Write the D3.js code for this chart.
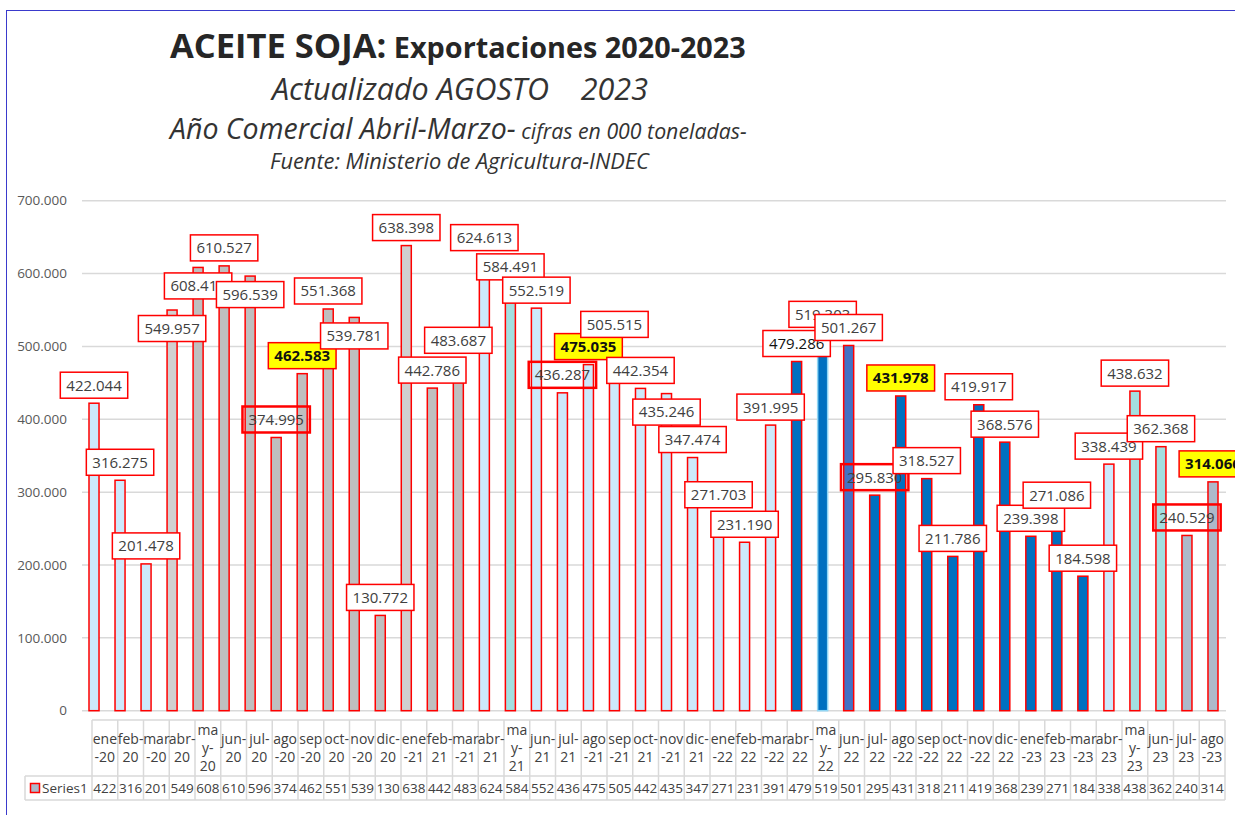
<!doctype html>
<html>
<head>
<meta charset="utf-8"/>
<script src="https://d3js.org/d3.v7.min.js"></script>
<style>
body{margin:0;background:#fff;}
text{font-family:"Open Sans",sans-serif;}
</style>
</head>
<body>
<script>
var width=1235, height=815;

// meses (ene-20 .. ago-23)
var months=["ene-20","feb-20","mar-20","abr-20","may-20","jun-20","jul-20","ago-20","sep-20","oct-20","nov-20","dic-20",
"ene-21","feb-21","mar-21","abr-21","may-21","jun-21","jul-21","ago-21","sep-21","oct-21","nov-21","dic-21",
"ene-22","feb-22","mar-22","abr-22","may-22","jun-22","jul-22","ago-22","sep-22","oct-22","nov-22","dic-22",
"ene-23","feb-23","mar-23","abr-23","may-23","jun-23","jul-23","ago-23"];

// as Excel wrapped them in the table header
var tickLabels=["ene\n-20","feb-\n20","mar\n-20","abr-\n20","ma\ny-\n20","jun-\n20","jul-\n20","ago\n-20","sep\n-20","oct-\n20","nov\n-20","dic-\n20",
"ene\n-21","feb-\n21","mar\n-21","abr-\n21","ma\ny-\n21","jun-\n21","jul-\n21","ago\n-21","sep\n-21","oct-\n21","nov\n-21","dic-\n21",
"ene\n-22","feb-\n22","mar\n-22","abr-\n22","ma\ny-\n22","jun-\n22","jul-\n22","ago\n-22","sep\n-22","oct-\n22","nov\n-22","dic-\n22",
"ene\n-23","feb-\n23","mar\n-23","abr-\n23","ma\ny-\n23","jun-\n23","jul-\n23","ago\n-23"];

// toneladas
var tons=[422044,316275,201478,549957,608413,610527,596539,374995,462583,551368,539781,130772,
638398,442786,483687,624613,584491,552519,436287,475035,505515,442354,435246,347474,
271703,231190,391995,479286,519303,501267,295830,431978,318527,211786,419917,368576,
239398,271086,184598,338439,438632,362368,240529,314066];

// colour group of each bar
var barGroup=["lb","lb","lb","gl","g","g","g","g","g","g","g","g",
"gl","g","g","lb","t","lb","lb","lb","lb","lb","lb","lb",
"lb","lb","lb","db","dbx","mb","db","db","db","db","db","db",
"db","db","db","lb","t","t","sb","sb"];

var yTicks=[0,100000,200000,300000,400000,500000,600000,700000];

var labelBelow=["abr-20","may-20","jul-20","nov-20","nov-21"];
var labelHighlight=["sep-20","ago-21","ago-22","ago-23"];
var labelOutlined=["ago-20","jul-21","jul-22","jul-23"];
var labelDark=["abr-22"];

var es=d3.formatLocale({decimal:",",thousands:".",grouping:[3],currency:["$",""]});
var fmt=es.format(",d");

var fill=d3.scaleOrdinal()
	.domain(["lb","gl","g","t","db","dbx","mb","sb"])
	.range(["#cde9fb","#d0d0d0","#bfbfbf","#a3dfe0","#0070c0","#0070c0","#4472c4","#adb9ca"]);

var svg=d3.select("body").append("svg").attr("width",width).attr("height",height);
svg.append("rect").attr("width",width).attr("height",height).attr("fill","#fff");
svg.append("rect").attr("x",6.5).attr("y",10.5).attr("width",1240).attr("height",820)
	.attr("fill","none").attr("stroke","#3a3acc").attr("stroke-width",1);

var x=d3.scaleBand().domain(months).range([81,1226]).paddingInner(0.615).paddingOuter(0.3075);
var xt=d3.scaleBand().domain(months).range([92,1225]);
var y=d3.scaleLinear().domain([0,700000]).range([710.7,200.7]);

// titles
var t1=svg.append("text").attr("x",170).attr("y",58).attr("fill","#262626").attr("font-weight","bold");
t1.append("tspan").attr("font-size",34.5).text("ACEITE SOJA:");
t1.append("tspan").attr("font-size",28.8).text(" Exportaciones 2020-2023");
svg.append("text").attr("x",272).attr("y",100).attr("font-size",30.5).attr("font-style","italic")
	.attr("fill","#333").style("white-space","pre").text("Actualizado AGOSTO    2023");
var t3=svg.append("text").attr("x",170).attr("y",139).attr("font-style","italic").attr("fill","#333");
t3.append("tspan").attr("font-size",28.5).text("Año Comercial Abril-Marzo-");
t3.append("tspan").attr("font-size",21.3).text(" cifras en 000 toneladas-");
svg.append("text").attr("x",270).attr("y",169).attr("font-size",21.8).attr("font-style","italic")
	.attr("fill","#333").text("Fuente: Ministerio de Agricultura-INDEC");

// grid + y labels
svg.append("g").selectAll("line").data(yTicks).enter().append("line")
	.attr("x1",82).attr("x2",1226)
	.attr("y1",function(d){return y(d);}).attr("y2",function(d){return y(d);})
	.attr("stroke","#d9d9d9").attr("stroke-width",1.5);
svg.append("g").selectAll("text").data(yTicks).enter().append("text")
	.attr("x",67).attr("y",function(d){return y(d);}).attr("dy","0.35em")
	.attr("text-anchor","end").attr("font-size",13.5).attr("fill","#595959")
	.text(function(d){return fmt(d);});

// bars
svg.append("g").selectAll("rect").data(tons).enter().append("rect")
	.attr("x",function(d,i){return x(months[i]);})
	.attr("width",x.bandwidth())
	.attr("y",function(d){return y(d);})
	.attr("height",function(d){return y(0)-y(d);})
	.attr("fill",function(d,i){return fill(barGroup[i]);})
	.attr("stroke",function(d,i){return barGroup[i]=="dbx"?"#8fd6f5":"#ff0000";})
	.attr("stroke-width",1.5);

// data labels
var lab=svg.append("g").selectAll("g").data(tons).enter().append("g")
	.attr("transform",function(d,i){
		var cy=y(d)+(labelBelow.indexOf(months[i])>=0?18.5:-18);
		return "translate("+(x(months[i])+x.bandwidth()/2)+","+cy+")";});
lab.append("rect");
lab.append("text")
	.attr("text-anchor","middle").attr("dy","0.36em").attr("font-size",15)
	.attr("font-weight",function(d,i){return labelHighlight.indexOf(months[i])>=0?"bold":"normal";})
	.attr("fill",function(d,i){return labelDark.indexOf(months[i])>=0||labelHighlight.indexOf(months[i])>=0?"#111":"#404040";})
	.text(function(d){return fmt(d);});
lab.each(function(d,i){
	var g=d3.select(this);
	var w=g.select("text").node().getComputedTextLength()+12;
	var m=months[i];
	g.select("rect").attr("x",-w/2).attr("y",-13).attr("width",w).attr("height",26)
		.attr("fill",labelHighlight.indexOf(m)>=0?"#ffff00":(labelOutlined.indexOf(m)>=0?"none":"#fff"))
		.attr("stroke","#ff0000").attr("stroke-width",labelOutlined.indexOf(m)>=0?2.5:1.5);
});

// data table
var tb=svg.append("g");
var grid="#d9d9d9";
tb.append("line").attr("x1",92).attr("x2",1225).attr("y1",720).attr("y2",720).attr("stroke",grid).attr("stroke-width",1.5);
tb.append("line").attr("x1",25).attr("x2",1225).attr("y1",776).attr("y2",776).attr("stroke",grid).attr("stroke-width",1.5);
tb.append("line").attr("x1",25).attr("x2",1225).attr("y1",800).attr("y2",800).attr("stroke",grid).attr("stroke-width",1.5);
tb.append("line").attr("x1",25).attr("x2",25).attr("y1",776).attr("y2",800).attr("stroke",grid).attr("stroke-width",1.5);
tb.selectAll(".vl").data(months.concat(["end"])).enter().append("line")
	.attr("x1",function(d,i){return xt.range()[0]+i*xt.step();})
	.attr("x2",function(d,i){return xt.range()[0]+i*xt.step();})
	.attr("y1",720).attr("y2",800).attr("stroke",grid).attr("stroke-width",1.5);

var hd=tb.selectAll(".hd").data(tickLabels).enter().append("text")
	.attr("text-anchor","middle").attr("font-size",14).attr("fill","#404040");
hd.each(function(d,i){
	var lines=d.split("\n");
	var t=d3.select(this);
	lines.forEach(function(l,k){
		t.append("tspan").attr("x",xt(months[i])+xt.bandwidth()/2)
			.attr("y",748+(k-(lines.length-1)/2)*18).attr("dy","0.35em").text(l);
	});
});
tb.selectAll(".vv").data(tons).enter().append("text")
	.attr("x",function(d,i){return xt(months[i])+xt.bandwidth()/2;})
	.attr("y",788).attr("dy","0.35em").attr("text-anchor","middle")
	.attr("font-size",13.5).attr("fill","#404040")
	.text(function(d){return Math.floor(d/1000);});

// legend key
tb.append("rect").attr("x",30.5).attr("y",783.5).attr("width",9).attr("height",9)
	.attr("fill","#adb9ca").attr("stroke","#ff0000").attr("stroke-width",1.5);
tb.append("text").attr("x",42).attr("y",788).attr("dy","0.35em").attr("font-size",13.5)
	.attr("fill","#404040").text("Series1");
</script>
</body>
</html>
